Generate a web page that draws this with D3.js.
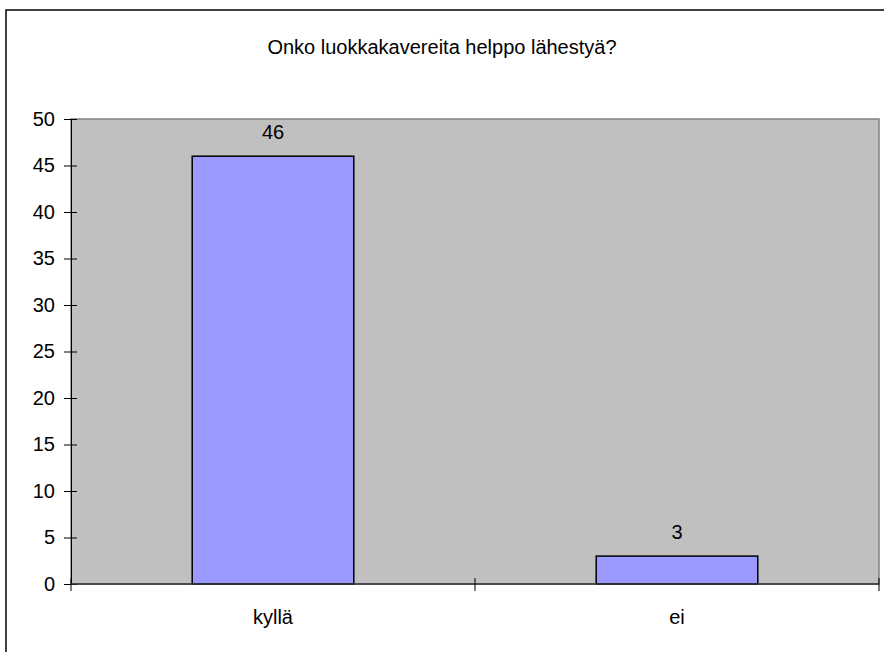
<!DOCTYPE html>
<html>
<head>
<meta charset="utf-8">
<title>Onko luokkakavereita helppo lähestyä?</title>
<script src="https://d3js.org/d3.v7.min.js"></script>
<style>
  body { margin: 0; background: #fff; }
  svg text { font-family: "Liberation Sans", Arial, sans-serif; fill: #000; }
</style>
</head>
<body>
<div id="my_dataviz"></div>
<script>

// chart data
var title = "Onko luokkakavereita helppo lähestyä?";
var categories = ["kyllä", "ei"];
var values = [46, 3];
var yTicks = [0, 5, 10, 15, 20, 25, 30, 35, 40, 45, 50];

var W = 884, H = 652;
var margin = {top: 119, right: 5, bottom: 68, left: 71},
    width = W - margin.left - margin.right,
    height = H - margin.top - margin.bottom;

var fs = "20px";

var svg = d3.select("#my_dataviz")
  .append("svg")
    .attr("width", W)
    .attr("height", H);

// outer chart frame
svg.append("rect")
  .attr("x", 6).attr("y", 10)
  .attr("width", W).attr("height", H)
  .attr("fill", "none")
  .attr("stroke", "#000")
  .attr("stroke-width", 1.5);

svg.append("text")
  .attr("x", 442).attr("y", 54)
  .attr("text-anchor", "middle")
  .style("font-size", fs)
  .text(title);

var g = svg.append("g")
  .attr("transform", "translate(" + margin.left + "," + margin.top + ")");

var x = d3.scaleBand()
  .domain(categories)
  .range([0, width])
  .paddingInner(0.6)
  .paddingOuter(0.3);

var y = d3.scaleLinear()
  .domain([0, 50])
  .range([height, 0]);

// plot area
g.append("rect")
  .attr("width", width).attr("height", height)
  .attr("fill", "#c0c0c0")
  .attr("stroke", "#808080")
  .attr("stroke-width", 1.5);

// bars
g.selectAll(".bar")
  .data(values)
  .enter()
  .append("rect")
    .attr("x", function(d, i) { return x(categories[i]); })
    .attr("y", function(d) { return y(d); })
    .attr("width", x.bandwidth())
    .attr("height", function(d) { return height - y(d); })
    .attr("fill", "#9999ff")
    .attr("stroke", "#000")
    .attr("stroke-width", 1.5);

// value labels
g.selectAll(".lbl")
  .data(values)
  .enter()
  .append("text")
    .attr("x", function(d, i) { return x(categories[i]) + x.bandwidth() / 2; })
    .attr("y", function(d) { return y(d) - 17; })
    .attr("text-anchor", "middle")
    .style("font-size", fs)
    .text(function(d) { return d; });

// y axis, ticks crossing the line
var yAxis = g.append("g")
  .call(d3.axisLeft(y).tickValues(yTicks).tickSize(7).tickSizeOuter(0).tickPadding(9));
yAxis.selectAll(".tick line").attr("x2", 6).attr("x1", -7);
yAxis.select(".domain").attr("stroke", "#000");
yAxis.selectAll("text").style("font-size", fs).style("font-family", "Liberation Sans, Arial, sans-serif");

// x axis, ticks at category boundaries
var bounds = [0, width / 2, width];
var xAxis = g.append("g").attr("transform", "translate(0," + height + ")");
xAxis.append("line")
  .attr("x1", 0).attr("x2", width)
  .attr("stroke", "#333").attr("stroke-width", 1.5);
xAxis.selectAll(".xt")
  .data(bounds)
  .enter()
  .append("line")
    .attr("x1", function(d) { return d; }).attr("x2", function(d) { return d; })
    .attr("y1", -6).attr("y2", 7)
    .attr("stroke", "#000");
xAxis.selectAll(".xl")
  .data(categories)
  .enter()
  .append("text")
    .attr("x", function(d) { return x(d) + x.bandwidth() / 2; })
    .attr("y", 40)
    .attr("text-anchor", "middle")
    .style("font-size", fs)
    .text(function(d) { return d; });

</script>
</body>
</html>
